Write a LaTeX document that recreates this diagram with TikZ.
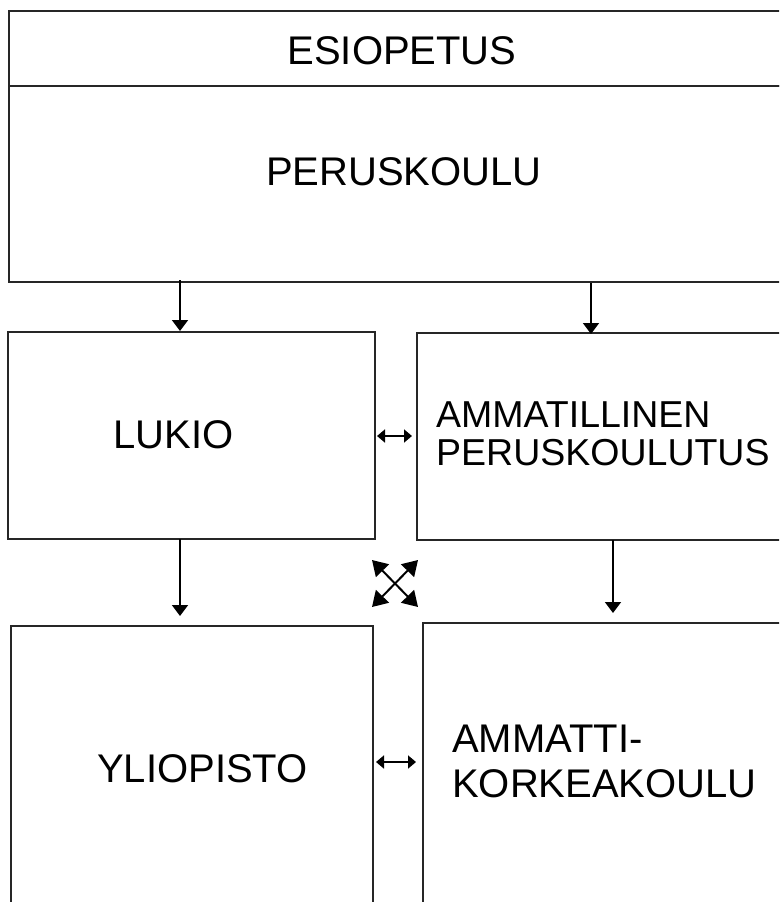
\documentclass[tikz,border=0pt]{standalone}
\usepackage{fontspec}
\setmainfont{Liberation Sans}
\usetikzlibrary{arrows.meta}
\begin{document}
\begin{tikzpicture}[x=1pt,y=-1pt,
  box/.style={draw=black!85,line width=2pt,inner sep=0pt,rectangle},
  lbl/.style={inner sep=0pt,font=\fontsize{40}{40}\selectfont},
  slbl/.style={inner sep=0pt,font=\fontsize{37.5}{38}\selectfont},
  arr/.style={line width=1.8pt,-{Triangle[width=16pt,length=11pt]}},
  darr/.style={line width=1.8pt,{Triangle[width=13pt,length=8pt]}-{Triangle[width=13pt,length=8pt]}},
  xarr/.style={line width=2pt,{Triangle[width=18pt,length=15pt]}-{Triangle[width=18pt,length=15pt]}}]
\useasboundingbox (0,0) rectangle (779,902);
\clip (0,0) rectangle (779,902);
\fill[white] (0,0) rectangle (779,902);
% boxes
\node[box,minimum width=781pt,minimum height=75pt] (esio) at (399.5,48.5) {};
\node[box,minimum width=781pt,minimum height=196pt] (perus) at (399.5,184) {};
\node[box,minimum width=367pt,minimum height=207pt] (lukio) at (191.5,435.5) {};
\node[box,minimum width=373pt,minimum height=207pt] (ammat) at (603.5,436.5) {};
\node[box,minimum width=362pt,minimum height=294pt] (ylio) at (192,773) {};
\node[box,minimum width=367pt,minimum height=297pt] (amk) at (606.5,771.5) {};
% texts
\node[lbl,anchor=base] (tesio) at (402,64) {ESIOPETUS};
\node[lbl,anchor=base] (tperus) at (404,185) {PERUSKOULU};
\node[lbl,anchor=base west] (tlukio) at (113,448) {LUKIO};
\node[slbl,anchor=base west] (tam1) at (436,427) {AMMATILLINEN};
\node[slbl,anchor=base west] (tam2) at (436,465) {PERUSKOULUTUS};
\node[lbl,anchor=base west] (tylio) at (97,782) {YLIOPISTO};
\node[lbl,anchor=base west] (tamk1) at (452,752) {AMMATTI-};
\node[lbl,anchor=base west] (tamk2) at (452,797) {KORKEAKOULU};
% helper coordinates
\coordinate (cl) at (180,0);
\coordinate (cr1) at (591,0);
\coordinate (cr2) at (613,0);
\coordinate (ya) at (0,436);
\coordinate (yb) at (0,762);
\coordinate (e3) at (180,616);
\coordinate (e4) at (613,613);
\coordinate (x1) at (372,560);
\coordinate (x2) at (418,607);
\coordinate (x3) at (418,560);
\coordinate (x4) at (372,607);
% connectors
\draw[arr] ([yshift=3pt]perus.south -| cl) -- (lukio.north -| cl);
\draw[arr] (perus.south -| cr1) -- ([yshift=-2pt]ammat.north -| cr1);
\draw[arr] ([yshift=1pt]lukio.south -| cl) -- (e3);
\draw[arr] ([yshift=1pt]ammat.south -| cr2) -- (e4);
\draw[darr] ([xshift=1pt]lukio.east |- ya) -- ([xshift=-4pt]ammat.west |- ya);
\draw[darr] ([xshift=2pt]ylio.east |- yb) -- ([xshift=-6pt]amk.west |- yb);
\draw[xarr] (x1) -- (x2);
\draw[xarr] (x3) -- (x4);
\end{tikzpicture}
\end{document}
